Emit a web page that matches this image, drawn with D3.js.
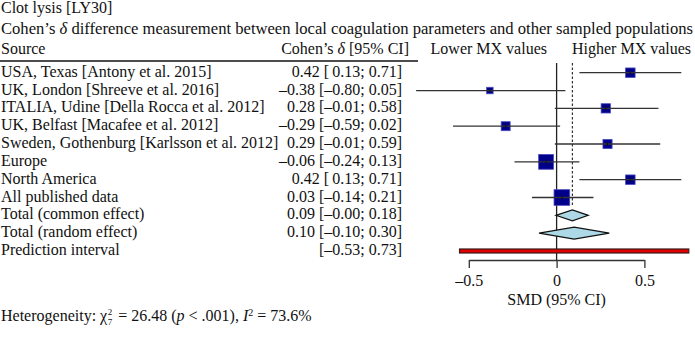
<!DOCTYPE html>
<html lang="en">
<head>
	<meta charset="UTF-8"/>
	<title>Forest plot - Clot lysis [LY30]</title>
	<script src="https://d3js.org/d3.v7.min.js"></script>
	<style>
		body { margin: 0; background: #fff; }
		svg text { font-family: "Liberation Serif", "Times New Roman", serif; font-size: 16px; fill: #111; }
	</style>
</head>
<body>
<script>

	// study rows
	var sources = [
		"USA, Texas [Antony et al. 2015]",
		"UK, London [Shreeve et al. 2016]",
		"ITALIA, Udine [Della Rocca et al. 2012]",
		"UK, Belfast [Macafee et al. 2012]",
		"Sweden, Gothenburg [Karlsson et al. 2012]",
		"Europe",
		"North America",
		"All published data"
	];
	var estimates = [0.42, -0.38, 0.28, -0.29, 0.29, -0.06, 0.42, 0.03];
	var lowerCI   = [0.13, -0.80, -0.01, -0.59, -0.01, -0.24, 0.13, -0.14];
	var upperCI   = [0.71, 0.05, 0.58, 0.02, 0.59, 0.13, 0.71, 0.21];
	var weights   = [9.6, 4.5, 9.2, 8.6, 8.9, 23.5, 9.6, 26.2];

	// pooled rows: [estimate, lower, upper]
	var summaryLabels = ["Total (common effect)", "Total (random effect)"];
	var summaryValues = [[0.09, -0.004, 0.18], [0.10, -0.10, 0.30]];
	var predictionLabel = "Prediction interval";
	var predictionInterval = [-0.53, 0.73];

	var axisTicks = [-0.5, 0, 0.5];

	var w = 695;
	var h = 339;

	var svg = d3.select("body")
				.append("svg")
				.attr("width", w)
				.attr("height", h);

	var rowNames = sources.concat(summaryLabels).concat([predictionLabel]);

	var yScale = d3.scalePoint()
					.domain(d3.range(rowNames.length))
					.range([72.7, 251]);

	var xScale = d3.scaleLinear()
					.domain([-0.5, 0.5])
					.range([468.8, 644.4]);

	function num(v) {
		var s = Math.abs(v).toFixed(2);
		return (v < 0 ? "\u2013" : "") + s;
	}
	function ciText(e, lo, hi) {
		var l = lo < 0 ? num(lo) : "\u2009" + num(lo);
		return (e === null ? "" : num(e) + " ") + "[" + l + "; " + num(hi) + "]";
	}

	// titles
	svg.append("text").attr("x", 1).attr("y", 12.5).text("Clot lysis [LY30]");
	var sub = svg.append("text").attr("x", 1).attr("y", 33.5);
	sub.append("tspan").text("Cohen\u2019s ");
	sub.append("tspan").style("font-style", "italic").text("\u03b4");
	sub.append("tspan").text(" difference measurement between local coagulation parameters and other sampled populations");
	sub.attr("textLength", 692).attr("lengthAdjust", "spacingAndGlyphs");

	// column headers
	svg.append("text").attr("x", 1).attr("y", 53.5).text("Source");
	var hd = svg.append("text").attr("x", 409).attr("y", 53.5).style("text-anchor", "end");
	hd.append("tspan").text("Cohen\u2019s ");
	hd.append("tspan").style("font-style", "italic").text("\u03b4");
	hd.append("tspan").text(" [95% CI]");

	svg.append("text").attr("x", 547).attr("y", 53.5).style("text-anchor", "end").text("Lower MX values");
	svg.append("text").attr("x", 572).attr("y", 53.5).text("Higher MX values");

	svg.append("line")
		.attr("x1", 0).attr("x2", 418)
		.attr("y1", 61).attr("y2", 61)
		.attr("stroke", "#111").attr("stroke-width", 1.3);

	// row labels and estimate text
	svg.selectAll("text.label")
		.data(rowNames)
		.enter()
		.append("text")
		.attr("class", "label")
		.attr("x", 1)
		.attr("y", function(d, i) { return yScale(i) + 4; })
		.text(function(d) { return d; });

	var ciStrings = sources.map(function(d, i) { return ciText(estimates[i], lowerCI[i], upperCI[i]); })
		.concat(summaryValues.map(function(d) { return ciText(d[0], d[1], d[2]); }))
		.concat([ciText(null, predictionInterval[0], predictionInterval[1])]);

	svg.selectAll("text.ci")
		.data(ciStrings)
		.enter()
		.append("text")
		.attr("class", "ci")
		.attr("x", 402)
		.attr("y", function(d, i) { return yScale(i) + 4; })
		.style("text-anchor", "end")
		.text(function(d) { return d; });

	// reference lines
	svg.append("line")
		.attr("x1", xScale(0)).attr("x2", xScale(0))
		.attr("y1", 63).attr("y2", 260)
		.attr("stroke", "#222").attr("stroke-width", 1.3);

	svg.append("line")
		.attr("x1", xScale(summaryValues[0][0])).attr("x2", xScale(summaryValues[0][0]))
		.attr("y1", 63).attr("y2", 205)
		.attr("stroke", "#333").attr("stroke-width", 1.2)
		.attr("stroke-dasharray", "2.5,2");

	// study squares
	var studies = sources.map(function(d, i) {
		return { i: i, est: estimates[i], lo: lowerCI[i], hi: upperCI[i], w: weights[i] };
	});

	svg.selectAll("rect.box")
		.data(studies)
		.enter()
		.append("rect")
		.attr("class", "box")
		.attr("x", function(d) { return xScale(d.est) - Math.sqrt(d.w) * 1.53; })
		.attr("y", function(d) { return yScale(d.i) - Math.sqrt(d.w) * 1.53; })
		.attr("width", function(d) { return Math.sqrt(d.w) * 3.06; })
		.attr("height", function(d) { return Math.sqrt(d.w) * 3.06; })
		.attr("fill", "#00008b")
		.attr("stroke", "#4a4ac0")
		.attr("stroke-width", 0.8);

	svg.selectAll("line.ci")
		.data(studies)
		.enter()
		.append("line")
		.attr("class", "ci")
		.attr("x1", function(d) { return xScale(d.lo); })
		.attr("x2", function(d) { return xScale(d.hi); })
		.attr("y1", function(d) { return yScale(d.i); })
		.attr("y2", function(d) { return yScale(d.i); })
		.attr("stroke", "#333")
		.attr("stroke-width", 1.3);

	svg.selectAll("line.pt")
		.data(studies)
		.enter()
		.append("line")
		.attr("class", "pt")
		.attr("x1", function(d) { return xScale(d.est); })
		.attr("x2", function(d) { return xScale(d.est); })
		.attr("y1", function(d) { return yScale(d.i) - 2; })
		.attr("y2", function(d) { return yScale(d.i) + 2; })
		.attr("stroke", "#111")
		.attr("stroke-width", 1);

	// pooled diamonds
	svg.selectAll("path.diamond")
		.data(summaryValues)
		.enter()
		.append("path")
		.attr("class", "diamond")
		.attr("d", function(d, i) {
			var y = yScale(sources.length + i);
			var hh = i === 0 ? 5.5 : 6;
			return "M" + xScale(d[1]) + "," + y +
				"L" + xScale(d[0]) + "," + (y - hh) +
				"L" + xScale(d[2]) + "," + y +
				"L" + xScale(d[0]) + "," + (y + hh) + "Z";
		})
		.attr("fill", "#add8e6")
		.attr("stroke", "#111")
		.attr("stroke-width", 1.2);

	// prediction interval bar
	var py = yScale(rowNames.length - 1);
	svg.append("rect")
		.attr("x", xScale(predictionInterval[0]) - 4)
		.attr("y", py - 2)
		.attr("width", xScale(predictionInterval[1]) - xScale(predictionInterval[0]) + 8)
		.attr("height", 4)
		.attr("fill", "#e00000")
		.attr("stroke", "#3a1a1a")
		.attr("stroke-width", 1.2);

	// axis
	var xAxis = d3.axisBottom()
					.scale(xScale)
					.tickValues(axisTicks)
					.tickSize(8)
					.tickSizeOuter(0)
					.tickPadding(7)
					.tickFormat(function(d) { return d === 0 ? "0" : (d < 0 ? "\u2013" : "") + Math.abs(d); });

	var gx = svg.append("g")
		.attr("transform", "translate(0,260)")
		.call(xAxis);
	gx.attr("font-family", null).attr("font-size", null);
	gx.selectAll("path, line").attr("stroke", "#333").attr("stroke-width", 1.3);
	gx.selectAll("text").attr("fill", "#111");

	svg.append("text")
		.attr("x", xScale(0)).attr("y", 305)
		.style("text-anchor", "middle")
		.text("SMD (95% CI)");

	// heterogeneity line
	var het = svg.append("text").attr("x", 1).attr("y", 321);
	het.append("tspan").text("Heterogeneity: \u03c7");
	var chiEnd = 1 + het.node().getComputedTextLength();
	het.append("tspan").attr("dx", 7).text(" = 26.48 (");
	het.append("tspan").style("font-style", "italic").text("p");
	het.append("tspan").text(" < .001), ");
	het.append("tspan").style("font-style", "italic").text("I");
	het.append("tspan").attr("dy", -5).style("font-size", "10px").text("2");
	het.append("tspan").attr("dy", 5).text(" = 73.6%");

	svg.append("text").attr("x", chiEnd + 0.5).attr("y", 314.5).style("font-size", "9px").text("2");
	svg.append("text").attr("x", chiEnd + 0.5).attr("y", 325).style("font-size", "9px").text("7");

</script>
</body>
</html>
